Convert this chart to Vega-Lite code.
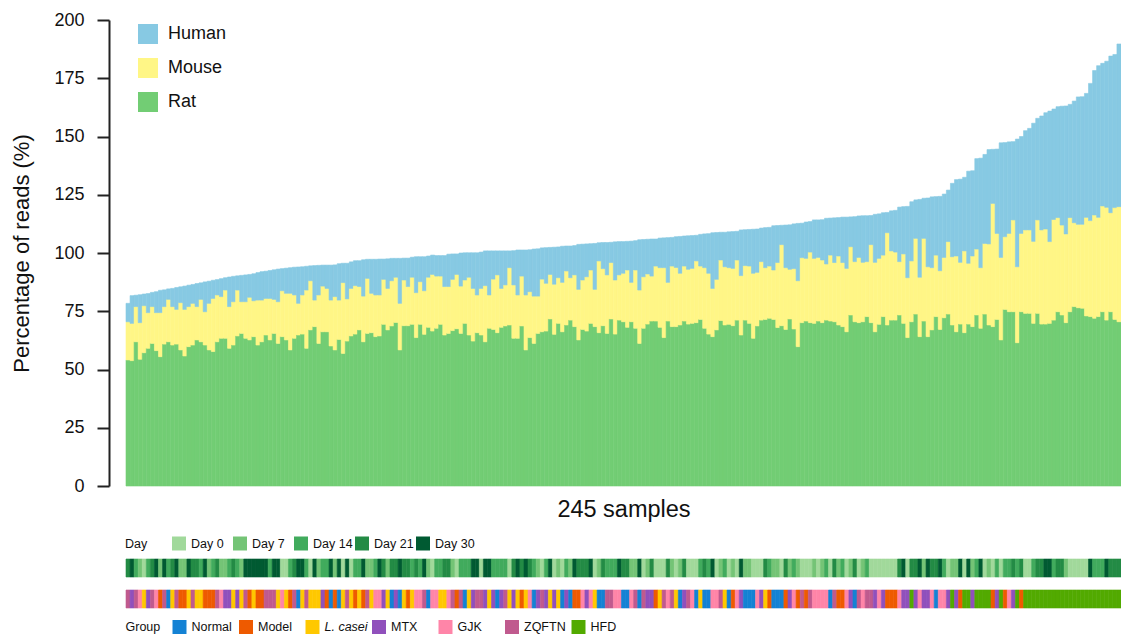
{
"$schema": "https://vega.github.io/schema/vega-lite/v6.json",
"padding": {"left": 10, "top": 11, "right": 0, "bottom": 0},
"config": {"font": "Liberation Sans", "view": {"stroke": null}},
"spacing": 11,
"datasets": {"samples": [
{"s":0,"Rat":54.1,"Mouse":16.4,"Human":7.9,"d":21,"g":"ZQFTN"},
{"s":1,"Rat":53.8,"Mouse":16.0,"Human":11.9,"d":30,"g":"MTX"},
{"s":2,"Rat":61.9,"Mouse":15.1,"Human":4.9,"d":14,"g":"ZQFTN"},
{"s":3,"Rat":54.4,"Mouse":15.7,"Human":12.0,"d":7,"g":"GJK"},
{"s":4,"Rat":57.2,"Mouse":20.2,"Human":5.0,"d":0,"g":"L. casei"},
{"s":5,"Rat":59.1,"Mouse":15.3,"Human":8.2,"d":14,"g":"MTX"},
{"s":6,"Rat":61.2,"Mouse":15.8,"Human":6.1,"d":21,"g":"ZQFTN"},
{"s":7,"Rat":58.1,"Mouse":16.3,"Human":9.0,"d":30,"g":"GJK"},
{"s":8,"Rat":55.5,"Mouse":18.9,"Human":9.6,"d":7,"g":"Model"},
{"s":9,"Rat":60.9,"Mouse":16.1,"Human":7.2,"d":30,"g":"ZQFTN"},
{"s":10,"Rat":61.9,"Mouse":18.2,"Human":4.5,"d":14,"g":"Normal"},
{"s":11,"Rat":60.5,"Mouse":16.5,"Human":7.8,"d":21,"g":"L. casei"},
{"s":12,"Rat":60.9,"Mouse":14.9,"Human":9.4,"d":30,"g":"ZQFTN"},
{"s":13,"Rat":58.4,"Mouse":20.3,"Human":6.8,"d":7,"g":"Model"},
{"s":14,"Rat":55.8,"Mouse":20.0,"Human":10.0,"d":7,"g":"Model"},
{"s":15,"Rat":59.8,"Mouse":17.2,"Human":9.2,"d":30,"g":"L. casei"},
{"s":16,"Rat":60.5,"Mouse":17.9,"Human":8.1,"d":21,"g":"ZQFTN"},
{"s":17,"Rat":62.7,"Mouse":14.3,"Human":9.9,"d":21,"g":"L. casei"},
{"s":18,"Rat":61.9,"Mouse":18.2,"Human":7.1,"d":14,"g":"L. casei"},
{"s":19,"Rat":60.5,"Mouse":14.3,"Human":12.8,"d":30,"g":"Model"},
{"s":20,"Rat":58.4,"Mouse":20.0,"Human":9.5,"d":7,"g":"Model"},
{"s":21,"Rat":57.7,"Mouse":22.8,"Human":7.8,"d":14,"g":"Model"},
{"s":22,"Rat":61.9,"Mouse":20.1,"Human":6.6,"d":21,"g":"ZQFTN"},
{"s":23,"Rat":63.4,"Mouse":17.9,"Human":7.7,"d":7,"g":"GJK"},
{"s":24,"Rat":63.4,"Mouse":20.7,"Human":5.3,"d":7,"g":"MTX"},
{"s":25,"Rat":59.1,"Mouse":17.9,"Human":12.7,"d":14,"g":"MTX"},
{"s":26,"Rat":60.5,"Mouse":18.6,"Human":10.9,"d":21,"g":"L. casei"},
{"s":27,"Rat":64.4,"Mouse":19.7,"Human":6.1,"d":14,"g":"MTX"},
{"s":28,"Rat":65.5,"Mouse":13.6,"Human":11.3,"d":7,"g":"L. casei"},
{"s":29,"Rat":63.4,"Mouse":15.7,"Human":11.5,"d":30,"g":"ZQFTN"},
{"s":30,"Rat":62.7,"Mouse":18.3,"Human":9.8,"d":30,"g":"Model"},
{"s":31,"Rat":64.1,"Mouse":15.4,"Human":11.6,"d":30,"g":"L. casei"},
{"s":32,"Rat":60.5,"Mouse":19.3,"Human":11.8,"d":30,"g":"Model"},
{"s":33,"Rat":61.9,"Mouse":17.9,"Human":12.2,"d":30,"g":"Model"},
{"s":34,"Rat":64.8,"Mouse":15.7,"Human":11.7,"d":30,"g":"ZQFTN"},
{"s":35,"Rat":62.7,"Mouse":17.8,"Human":12.0,"d":14,"g":"ZQFTN"},
{"s":36,"Rat":65.5,"Mouse":14.6,"Human":12.7,"d":30,"g":"ZQFTN"},
{"s":37,"Rat":61.2,"Mouse":17.9,"Human":14.0,"d":30,"g":"L. casei"},
{"s":38,"Rat":64.1,"Mouse":19.7,"Human":9.5,"d":0,"g":"GJK"},
{"s":39,"Rat":62.7,"Mouse":20.0,"Human":10.8,"d":0,"g":"L. casei"},
{"s":40,"Rat":58.4,"Mouse":24.3,"Human":11.0,"d":14,"g":"Model"},
{"s":41,"Rat":63.4,"Mouse":18.6,"Human":11.9,"d":21,"g":"ZQFTN"},
{"s":42,"Rat":64.8,"Mouse":13.6,"Human":15.6,"d":30,"g":"Normal"},
{"s":43,"Rat":65.2,"Mouse":16.8,"Human":12.1,"d":30,"g":"L. casei"},
{"s":44,"Rat":59.1,"Mouse":25.0,"Human":10.2,"d":14,"g":"ZQFTN"},
{"s":45,"Rat":67.0,"Mouse":21.1,"Human":6.4,"d":0,"g":"L. casei"},
{"s":46,"Rat":68.4,"Mouse":11.4,"Human":14.8,"d":30,"g":"L. casei"},
{"s":47,"Rat":61.2,"Mouse":20.8,"Human":12.7,"d":7,"g":"L. casei"},
{"s":48,"Rat":66.2,"Mouse":19.6,"Human":9.0,"d":14,"g":"MTX"},
{"s":49,"Rat":66.2,"Mouse":18.6,"Human":10.0,"d":14,"g":"Model"},
{"s":50,"Rat":60.1,"Mouse":19.7,"Human":15.0,"d":30,"g":"Normal"},
{"s":51,"Rat":58.4,"Mouse":22.9,"Human":13.6,"d":7,"g":"Model"},
{"s":52,"Rat":62.9,"Mouse":16.9,"Human":15.6,"d":30,"g":"Normal"},
{"s":53,"Rat":56.9,"Mouse":30.4,"Human":8.3,"d":0,"g":"L. casei"},
{"s":54,"Rat":62.2,"Mouse":18.1,"Human":15.3,"d":30,"g":"ZQFTN"},
{"s":55,"Rat":64.4,"Mouse":20.4,"Human":11.4,"d":0,"g":"L. casei"},
{"s":56,"Rat":65.2,"Mouse":20.8,"Human":10.7,"d":14,"g":"Model"},
{"s":57,"Rat":67.0,"Mouse":18.6,"Human":11.1,"d":14,"g":"L. casei"},
{"s":58,"Rat":61.9,"Mouse":19.6,"Human":15.6,"d":30,"g":"Model"},
{"s":59,"Rat":65.5,"Mouse":23.6,"Human":8.2,"d":7,"g":"ZQFTN"},
{"s":60,"Rat":65.8,"Mouse":16.9,"Human":14.6,"d":7,"g":"L. casei"},
{"s":61,"Rat":64.1,"Mouse":17.9,"Human":15.3,"d":14,"g":"GJK"},
{"s":62,"Rat":64.4,"Mouse":17.6,"Human":15.4,"d":30,"g":"GJK"},
{"s":63,"Rat":69.4,"Mouse":19.3,"Human":8.7,"d":21,"g":"MTX"},
{"s":64,"Rat":67.0,"Mouse":17.8,"Human":12.7,"d":7,"g":"L. casei"},
{"s":65,"Rat":68.7,"Mouse":19.4,"Human":9.6,"d":21,"g":"Normal"},
{"s":66,"Rat":70.2,"Mouse":19.4,"Human":8.1,"d":21,"g":"MTX"},
{"s":67,"Rat":58.4,"Mouse":20.0,"Human":19.3,"d":30,"g":"Normal"},
{"s":68,"Rat":68.8,"Mouse":19.6,"Human":9.4,"d":21,"g":"L. casei"},
{"s":69,"Rat":68.8,"Mouse":16.8,"Human":12.2,"d":21,"g":"Model"},
{"s":70,"Rat":69.4,"Mouse":20.2,"Human":8.6,"d":14,"g":"L. casei"},
{"s":71,"Rat":63.7,"Mouse":19.3,"Human":15.4,"d":21,"g":"GJK"},
{"s":72,"Rat":69.4,"Mouse":18.3,"Human":10.7,"d":14,"g":"GJK"},
{"s":73,"Rat":65.1,"Mouse":18.7,"Human":14.6,"d":30,"g":"ZQFTN"},
{"s":74,"Rat":68.1,"Mouse":21.5,"Human":9.1,"d":7,"g":"Normal"},
{"s":75,"Rat":66.5,"Mouse":24.3,"Human":8.3,"d":0,"g":"GJK"},
{"s":76,"Rat":67.7,"Mouse":22.4,"Human":8.8,"d":14,"g":"GJK"},
{"s":77,"Rat":69.4,"Mouse":20.7,"Human":8.8,"d":14,"g":"L. casei"},
{"s":78,"Rat":64.8,"Mouse":20.8,"Human":13.3,"d":21,"g":"L. casei"},
{"s":79,"Rat":65.5,"Mouse":20.1,"Human":13.9,"d":21,"g":"GJK"},
{"s":80,"Rat":66.7,"Mouse":22.0,"Human":10.9,"d":7,"g":"ZQFTN"},
{"s":81,"Rat":67.5,"Mouse":23.3,"Human":8.8,"d":0,"g":"Model"},
{"s":82,"Rat":65.5,"Mouse":20.3,"Human":14.2,"d":14,"g":"ZQFTN"},
{"s":83,"Rat":69.8,"Mouse":18.6,"Human":11.7,"d":14,"g":"Normal"},
{"s":84,"Rat":64.8,"Mouse":24.8,"Human":10.5,"d":14,"g":"L. casei"},
{"s":85,"Rat":62.2,"Mouse":22.6,"Human":15.3,"d":30,"g":"MTX"},
{"s":86,"Rat":65.8,"Mouse":16.2,"Human":18.1,"d":30,"g":"ZQFTN"},
{"s":87,"Rat":64.8,"Mouse":20.0,"Human":15.6,"d":0,"g":"ZQFTN"},
{"s":88,"Rat":61.9,"Mouse":24.1,"Human":14.9,"d":30,"g":"MTX"},
{"s":89,"Rat":67.7,"Mouse":14.3,"Human":18.9,"d":30,"g":"L. casei"},
{"s":90,"Rat":67.2,"Mouse":21.6,"Human":12.1,"d":14,"g":"MTX"},
{"s":91,"Rat":65.8,"Mouse":24.8,"Human":10.3,"d":14,"g":"Normal"},
{"s":92,"Rat":68.1,"Mouse":16.7,"Human":16.1,"d":14,"g":"MTX"},
{"s":93,"Rat":68.7,"Mouse":17.6,"Human":14.6,"d":14,"g":"ZQFTN"},
{"s":94,"Rat":69.1,"Mouse":24.6,"Human":7.2,"d":0,"g":"L. casei"},
{"s":95,"Rat":63.4,"Mouse":22.9,"Human":14.7,"d":21,"g":"MTX"},
{"s":96,"Rat":63.4,"Mouse":18.6,"Human":19.3,"d":30,"g":"L. casei"},
{"s":97,"Rat":68.7,"Mouse":21.4,"Human":11.2,"d":21,"g":"Model"},
{"s":98,"Rat":58.4,"Mouse":23.6,"Human":19.3,"d":30,"g":"L. casei"},
{"s":99,"Rat":63.7,"Mouse":19.7,"Human":18.0,"d":21,"g":"GJK"},
{"s":100,"Rat":61.2,"Mouse":20.3,"Human":20.2,"d":14,"g":"Normal"},
{"s":101,"Rat":65.5,"Mouse":16.0,"Human":20.3,"d":7,"g":"MTX"},
{"s":102,"Rat":66.2,"Mouse":22.6,"Human":13.4,"d":0,"g":"ZQFTN"},
{"s":103,"Rat":66.5,"Mouse":20.5,"Human":15.3,"d":14,"g":"MTX"},
{"s":104,"Rat":71.7,"Mouse":19.1,"Human":11.6,"d":30,"g":"L. casei"},
{"s":105,"Rat":65.1,"Mouse":21.5,"Human":15.9,"d":0,"g":"MTX"},
{"s":106,"Rat":69.8,"Mouse":19.6,"Human":13.2,"d":7,"g":"L. casei"},
{"s":107,"Rat":66.2,"Mouse":21.2,"Human":15.5,"d":0,"g":"Normal"},
{"s":108,"Rat":69.1,"Mouse":23.2,"Human":10.7,"d":14,"g":"MTX"},
{"s":109,"Rat":71.2,"Mouse":18.2,"Human":13.6,"d":7,"g":"Normal"},
{"s":110,"Rat":68.4,"Mouse":22.2,"Human":12.6,"d":30,"g":"Model"},
{"s":111,"Rat":62.7,"Mouse":21.7,"Human":19.3,"d":21,"g":"Model"},
{"s":112,"Rat":67.2,"Mouse":21.2,"Human":15.4,"d":21,"g":"GJK"},
{"s":113,"Rat":66.5,"Mouse":23.3,"Human":14.1,"d":21,"g":"MTX"},
{"s":114,"Rat":69.8,"Mouse":22.9,"Human":11.3,"d":30,"g":"GJK"},
{"s":115,"Rat":68.4,"Mouse":16.0,"Human":19.7,"d":0,"g":"L. casei"},
{"s":116,"Rat":65.8,"Mouse":30.8,"Human":7.8,"d":7,"g":"Normal"},
{"s":117,"Rat":68.8,"Mouse":24.5,"Human":11.2,"d":21,"g":"Normal"},
{"s":118,"Rat":65.5,"Mouse":25.1,"Human":13.9,"d":14,"g":"ZQFTN"},
{"s":119,"Rat":71.7,"Mouse":24.2,"Human":8.7,"d":14,"g":"ZQFTN"},
{"s":120,"Rat":65.2,"Mouse":23.2,"Human":16.4,"d":14,"g":"GJK"},
{"s":121,"Rat":71.2,"Mouse":19.4,"Human":14.3,"d":30,"g":"GJK"},
{"s":122,"Rat":70.5,"Mouse":20.8,"Human":13.6,"d":21,"g":"Normal"},
{"s":123,"Rat":68.1,"Mouse":24.6,"Human":12.3,"d":21,"g":"Normal"},
{"s":124,"Rat":70.5,"Mouse":16.9,"Human":17.7,"d":7,"g":"GJK"},
{"s":125,"Rat":67.7,"Mouse":25.0,"Human":12.6,"d":7,"g":"ZQFTN"},
{"s":126,"Rat":61.2,"Mouse":22.9,"Human":21.6,"d":30,"g":"Normal"},
{"s":127,"Rat":67.7,"Mouse":22.1,"Human":16.0,"d":0,"g":"ZQFTN"},
{"s":128,"Rat":69.5,"Mouse":21.5,"Human":14.9,"d":7,"g":"MTX"},
{"s":129,"Rat":70.8,"Mouse":19.3,"Human":15.9,"d":21,"g":"MTX"},
{"s":130,"Rat":70.8,"Mouse":23.6,"Human":11.6,"d":0,"g":"Model"},
{"s":131,"Rat":68.1,"Mouse":25.6,"Human":12.7,"d":0,"g":"L. casei"},
{"s":132,"Rat":63.7,"Mouse":30.0,"Human":12.8,"d":0,"g":"ZQFTN"},
{"s":133,"Rat":70.8,"Mouse":16.6,"Human":19.2,"d":21,"g":"GJK"},
{"s":134,"Rat":68.4,"Mouse":26.0,"Human":12.3,"d":7,"g":"ZQFTN"},
{"s":135,"Rat":68.4,"Mouse":25.4,"Human":13.2,"d":0,"g":"L. casei"},
{"s":136,"Rat":69.1,"Mouse":22.2,"Human":15.8,"d":7,"g":"Normal"},
{"s":137,"Rat":70.8,"Mouse":23.6,"Human":12.9,"d":21,"g":"MTX"},
{"s":138,"Rat":69.5,"Mouse":23.5,"Human":14.4,"d":0,"g":"ZQFTN"},
{"s":139,"Rat":69.8,"Mouse":23.6,"Human":14.1,"d":0,"g":"GJK"},
{"s":140,"Rat":70.1,"Mouse":26.5,"Human":11.0,"d":0,"g":"Normal"},
{"s":141,"Rat":71.5,"Mouse":22.9,"Human":13.6,"d":14,"g":"L. casei"},
{"s":142,"Rat":67.7,"Mouse":26.0,"Human":14.5,"d":21,"g":"Normal"},
{"s":143,"Rat":65.2,"Mouse":26.1,"Human":17.0,"d":14,"g":"Normal"},
{"s":144,"Rat":64.1,"Mouse":20.7,"Human":23.9,"d":30,"g":"GJK"},
{"s":145,"Rat":67.0,"Mouse":21.7,"Human":20.1,"d":0,"g":"GJK"},
{"s":146,"Rat":71.0,"Mouse":26.0,"Human":11.9,"d":7,"g":"ZQFTN"},
{"s":147,"Rat":69.1,"Mouse":25.0,"Human":14.8,"d":14,"g":"L. casei"},
{"s":148,"Rat":69.4,"Mouse":24.3,"Human":15.4,"d":0,"g":"Normal"},
{"s":149,"Rat":68.8,"Mouse":24.6,"Human":15.8,"d":7,"g":"Model"},
{"s":150,"Rat":71.2,"Mouse":25.8,"Human":12.3,"d":0,"g":"GJK"},
{"s":151,"Rat":64.8,"Mouse":25.5,"Human":19.6,"d":30,"g":"MTX"},
{"s":152,"Rat":71.2,"Mouse":23.4,"Human":15.4,"d":7,"g":"Normal"},
{"s":153,"Rat":69.8,"Mouse":24.6,"Human":15.7,"d":7,"g":"Normal"},
{"s":154,"Rat":63.4,"Mouse":27.9,"Human":18.9,"d":0,"g":"Normal"},
{"s":155,"Rat":68.7,"Mouse":23.0,"Human":18.6,"d":0,"g":"GJK"},
{"s":156,"Rat":71.2,"Mouse":25.1,"Human":14.4,"d":0,"g":"MTX"},
{"s":157,"Rat":71.5,"Mouse":22.2,"Human":17.2,"d":21,"g":"L. casei"},
{"s":158,"Rat":72.0,"Mouse":22.4,"Human":16.6,"d":14,"g":"Model"},
{"s":159,"Rat":71.5,"Mouse":21.2,"Human":19.0,"d":7,"g":"Normal"},
{"s":160,"Rat":68.0,"Mouse":27.9,"Human":15.9,"d":7,"g":"Normal"},
{"s":161,"Rat":68.8,"Mouse":34.8,"Human":8.3,"d":0,"g":"Normal"},
{"s":162,"Rat":67.2,"Mouse":26.5,"Human":18.3,"d":21,"g":"Model"},
{"s":163,"Rat":71.7,"Mouse":21.3,"Human":19.1,"d":7,"g":"MTX"},
{"s":164,"Rat":67.4,"Mouse":25.9,"Human":19.2,"d":14,"g":"GJK"},
{"s":165,"Rat":59.8,"Mouse":28.3,"Human":24.6,"d":7,"g":"Model"},
{"s":166,"Rat":70.1,"Mouse":27.9,"Human":14.8,"d":0,"g":"ZQFTN"},
{"s":167,"Rat":70.8,"Mouse":26.9,"Human":15.6,"d":0,"g":"Model"},
{"s":168,"Rat":70.1,"Mouse":30.3,"Human":13.1,"d":0,"g":"ZQFTN"},
{"s":169,"Rat":69.8,"Mouse":27.9,"Human":16.5,"d":7,"g":"GJK"},
{"s":170,"Rat":70.8,"Mouse":27.3,"Human":16.1,"d":0,"g":"GJK"},
{"s":171,"Rat":70.1,"Mouse":26.9,"Human":17.3,"d":7,"g":"GJK"},
{"s":172,"Rat":71.2,"Mouse":24.1,"Human":19.6,"d":14,"g":"GJK"},
{"s":173,"Rat":70.8,"Mouse":28.3,"Human":15.9,"d":0,"g":"Normal"},
{"s":174,"Rat":70.5,"Mouse":25.4,"Human":19.2,"d":21,"g":"ZQFTN"},
{"s":175,"Rat":69.1,"Mouse":29.6,"Human":16.5,"d":7,"g":"Model"},
{"s":176,"Rat":68.4,"Mouse":27.5,"Human":19.5,"d":14,"g":"Model"},
{"s":177,"Rat":66.2,"Mouse":27.2,"Human":22.0,"d":0,"g":"GJK"},
{"s":178,"Rat":73.4,"Mouse":29.3,"Human":12.8,"d":7,"g":"MTX"},
{"s":179,"Rat":70.5,"Mouse":25.8,"Human":19.3,"d":21,"g":"Normal"},
{"s":180,"Rat":70.1,"Mouse":28.0,"Human":17.8,"d":0,"g":"ZQFTN"},
{"s":181,"Rat":70.5,"Mouse":25.5,"Human":20.0,"d":7,"g":"GJK"},
{"s":182,"Rat":72.7,"Mouse":23.6,"Human":19.7,"d":14,"g":"ZQFTN"},
{"s":183,"Rat":70.1,"Mouse":33.5,"Human":12.5,"d":0,"g":"ZQFTN"},
{"s":184,"Rat":66.2,"Mouse":29.8,"Human":20.6,"d":0,"g":"MTX"},
{"s":185,"Rat":69.4,"Mouse":28.3,"Human":19.1,"d":0,"g":"GJK"},
{"s":186,"Rat":72.7,"Mouse":26.4,"Human":18.2,"d":0,"g":"MTX"},
{"s":187,"Rat":69.1,"Mouse":39.6,"Human":8.7,"d":0,"g":"Model"},
{"s":188,"Rat":71.2,"Mouse":29.7,"Human":17.2,"d":0,"g":"Model"},
{"s":189,"Rat":71.2,"Mouse":29.2,"Human":17.9,"d":0,"g":"Model"},
{"s":190,"Rat":73.4,"Mouse":22.9,"Human":23.4,"d":21,"g":"GJK"},
{"s":191,"Rat":69.8,"Mouse":29.8,"Human":20.3,"d":30,"g":"MTX"},
{"s":192,"Rat":63.7,"Mouse":25.7,"Human":30.6,"d":0,"g":"MTX"},
{"s":193,"Rat":70.5,"Mouse":26.1,"Human":25.4,"d":21,"g":"HFD"},
{"s":194,"Rat":73.8,"Mouse":32.5,"Human":16.5,"d":21,"g":"MTX"},
{"s":195,"Rat":64.1,"Mouse":25.5,"Human":33.4,"d":30,"g":"GJK"},
{"s":196,"Rat":70.8,"Mouse":35.5,"Human":17.2,"d":7,"g":"MTX"},
{"s":197,"Rat":64.1,"Mouse":30.0,"Human":29.5,"d":30,"g":"MTX"},
{"s":198,"Rat":67.0,"Mouse":26.7,"Human":30.4,"d":21,"g":"GJK"},
{"s":199,"Rat":72.7,"Mouse":26.4,"Human":25.1,"d":21,"g":"Normal"},
{"s":200,"Rat":67.2,"Mouse":25.2,"Human":31.9,"d":30,"g":"GJK"},
{"s":201,"Rat":72.2,"Mouse":25.9,"Human":27.2,"d":14,"g":"GJK"},
{"s":202,"Rat":73.8,"Mouse":31.1,"Human":22.1,"d":0,"g":"MTX"},
{"s":203,"Rat":69.1,"Mouse":29.3,"Human":31.5,"d":7,"g":"HFD"},
{"s":204,"Rat":66.2,"Mouse":32.5,"Human":32.8,"d":7,"g":"MTX"},
{"s":205,"Rat":69.5,"Mouse":26.5,"Human":35.7,"d":30,"g":"Model"},
{"s":206,"Rat":65.8,"Mouse":35.1,"Human":31.6,"d":0,"g":"HFD"},
{"s":207,"Rat":69.5,"Mouse":26.1,"Human":39.5,"d":30,"g":"HFD"},
{"s":208,"Rat":68.4,"Mouse":30.3,"Human":36.6,"d":7,"g":"MTX"},
{"s":209,"Rat":73.4,"Mouse":28.3,"Human":38.8,"d":14,"g":"HFD"},
{"s":210,"Rat":67.7,"Mouse":26.0,"Human":47.0,"d":30,"g":"HFD"},
{"s":211,"Rat":73.8,"Mouse":30.3,"Human":38.2,"d":0,"g":"HFD"},
{"s":212,"Rat":69.1,"Mouse":34.8,"Human":40.5,"d":7,"g":"HFD"},
{"s":213,"Rat":68.4,"Mouse":52.9,"Human":23.2,"d":0,"g":"Model"},
{"s":214,"Rat":71.5,"Mouse":36.9,"Human":36.2,"d":14,"g":"MTX"},
{"s":215,"Rat":62.7,"Mouse":35.4,"Human":49.2,"d":0,"g":"HFD"},
{"s":216,"Rat":75.8,"Mouse":31.2,"Human":40.4,"d":14,"g":"Model"},
{"s":217,"Rat":74.8,"Mouse":33.6,"Human":39.3,"d":14,"g":"GJK"},
{"s":218,"Rat":74.8,"Mouse":39.4,"Human":33.6,"d":21,"g":"MTX"},
{"s":219,"Rat":61.5,"Mouse":32.6,"Human":54.8,"d":14,"g":"HFD"},
{"s":220,"Rat":74.8,"Mouse":33.6,"Human":41.6,"d":21,"g":"Model"},
{"s":221,"Rat":74.1,"Mouse":35.8,"Human":42.6,"d":0,"g":"HFD"},
{"s":222,"Rat":74.1,"Mouse":35.8,"Human":43.6,"d":0,"g":"HFD"},
{"s":223,"Rat":69.8,"Mouse":35.2,"Human":50.7,"d":14,"g":"HFD"},
{"s":224,"Rat":74.1,"Mouse":40.1,"Human":43.6,"d":21,"g":"HFD"},
{"s":225,"Rat":69.5,"Mouse":40.4,"Human":48.9,"d":21,"g":"HFD"},
{"s":226,"Rat":69.5,"Mouse":40.8,"Human":49.9,"d":30,"g":"HFD"},
{"s":227,"Rat":69.8,"Mouse":35.1,"Human":56.0,"d":30,"g":"HFD"},
{"s":228,"Rat":71.2,"Mouse":43.2,"Human":47.4,"d":14,"g":"HFD"},
{"s":229,"Rat":74.8,"Mouse":40.4,"Human":47.6,"d":21,"g":"HFD"},
{"s":230,"Rat":73.4,"Mouse":38.6,"Human":51.0,"d":21,"g":"HFD"},
{"s":231,"Rat":70.1,"Mouse":38.1,"Human":54.9,"d":7,"g":"HFD"},
{"s":232,"Rat":74.8,"Mouse":40.4,"Human":48.6,"d":0,"g":"HFD"},
{"s":233,"Rat":77.0,"Mouse":36.0,"Human":52.2,"d":0,"g":"HFD"},
{"s":234,"Rat":76.5,"Mouse":35.8,"Human":54.7,"d":0,"g":"HFD"},
{"s":235,"Rat":76.3,"Mouse":36.0,"Human":54.8,"d":0,"g":"HFD"},
{"s":236,"Rat":73.0,"Mouse":42.3,"Human":53.2,"d":0,"g":"HFD"},
{"s":237,"Rat":72.7,"Mouse":41.2,"Human":58.9,"d":30,"g":"HFD"},
{"s":238,"Rat":72.0,"Mouse":44.3,"Human":62.0,"d":14,"g":"HFD"},
{"s":239,"Rat":72.7,"Mouse":42.6,"Human":65.1,"d":14,"g":"HFD"},
{"s":240,"Rat":74.8,"Mouse":45.4,"Human":61.2,"d":14,"g":"HFD"},
{"s":241,"Rat":71.2,"Mouse":48.4,"Human":62.7,"d":30,"g":"HFD"},
{"s":242,"Rat":74.8,"Mouse":42.5,"Human":67.2,"d":21,"g":"HFD"},
{"s":243,"Rat":71.5,"Mouse":48.0,"Human":65.7,"d":21,"g":"HFD"},
{"s":244,"Rat":70.5,"Mouse":49.4,"Human":69.8,"d":21,"g":"HFD"}
]},
"data": {"name": "samples"},
"resolve": {"scale": {"color": "independent", "stroke": "independent"}, "legend": {"color": "independent"}},
"vconcat": [
{
"width": 995, "height": 466,
"transform": [{"fold": ["Rat", "Mouse", "Human"], "as": ["sp", "v"]}],
"mark": {"type": "bar", "strokeWidth": 0.6},
"encoding": {
"x": {"field": "s", "type": "ordinal", "scale": {"paddingInner": 0, "paddingOuter": 0},
"axis": {"title": "245 samples", "labels": false, "ticks": false, "domain": false, "titleFontSize": 23.5, "titleFontWeight": "normal", "titleColor": "#111", "titlePadding": 11}},
"y": {"field": "v", "type": "quantitative", "stack": "zero", "scale": {"domain": [0, 200]},
"axis": {"values": [0, 25, 50, 75, 100, 125, 150, 175, 200], "grid": false, "offset": 17, "tickSize": 12, "tickWidth": 2, "domainWidth": 2, "tickColor": "#222", "domainColor": "#222", "labelFontSize": 18, "labelColor": "#111", "labelPadding": 13, "title": "Percentage of reads (%)", "titleFontSize": 22, "titleFontWeight": "normal", "titleColor": "#111", "titlePadding": 20}},
"color": {"field": "sp", "type": "nominal", "scale": {"domain": ["Human", "Mouse", "Rat"], "range": ["#87C9E3", "#FFF686", "#72CD74"]},
"legend": {"orient": "none", "legendX": 12, "legendY": 4, "title": null, "symbolType": "square", "symbolSize": 400, "symbolStrokeWidth": 0, "symbolOpacity": 1, "labelFontSize": 18, "labelColor": "#111", "labelOffset": 10, "rowPadding": 14, "padding": 0}},
"stroke": {"field": "sp", "type": "nominal", "scale": {"domain": ["Human", "Mouse", "Rat"], "range": ["#87C9E3", "#FFF686", "#72CD74"]}, "legend": null},
"order": {"field": "sp", "sort": "descending"}
}
},
{
"width": 995, "height": 18,
"mark": {"type": "rect", "strokeWidth": 0.6},
"encoding": {
"x": {"field": "s", "type": "ordinal", "scale": {"paddingInner": 0, "paddingOuter": 0}, "axis": null},
"color": {"field": "d", "type": "ordinal", "scale": {"domain": [0, 7, 14, 21, 30], "range": ["#A1D99B", "#74C476", "#41AB5D", "#238B45", "#005A32"]},
"legend": {"orient": "none", "legendX": -5, "legendY": -26.5, "direction": "horizontal", "title": "Day", "titleOrient": "left", "titleFontSize": 12.5, "titleFontWeight": "normal", "titleColor": "#111", "titlePadding": 24, "labelExpr": "'Day ' + datum.label", "labelFontSize": 12.5, "labelColor": "#111", "symbolType": "square", "symbolSize": 196, "symbolStrokeWidth": 0, "symbolOpacity": 1, "labelOffset": 5, "columnPadding": 2, "gridAlign": "all", "padding": 4}},
"stroke": {"field": "d", "type": "ordinal", "scale": {"domain": [0, 7, 14, 21, 30], "range": ["#A1D99B", "#74C476", "#41AB5D", "#238B45", "#005A32"]}, "legend": null}
}
},
{
"width": 995, "height": 18,
"mark": {"type": "rect", "strokeWidth": 0.6},
"encoding": {
"x": {"field": "s", "type": "ordinal", "scale": {"paddingInner": 0, "paddingOuter": 0}, "axis": null},
"color": {"field": "g", "type": "nominal", "scale": {"domain": ["Normal", "Model", "L. casei", "MTX", "GJK", "ZQFTN", "HFD"], "range": ["#1482D4", "#EE5A00", "#FFC800", "#9050BC", "#FF85A8", "#C05A8E", "#52AA00"]},
"legend": {"orient": "none", "legendX": -0.5, "legendY": 30, "direction": "horizontal", "title": "Group", "titleOrient": "left", "titleFontSize": 12.5, "titleFontWeight": "normal", "titleColor": "#111", "titlePadding": 12, "labelFontSize": 12.5, "labelColor": "#111", "labelFontStyle": {"expr": "datum.label == 'L. casei' ? 'italic' : 'normal'"}, "symbolType": "square", "symbolSize": 196, "symbolStrokeWidth": 0, "symbolOpacity": 1, "labelOffset": 5, "columnPadding": 3.5, "gridAlign": "all", "padding": 0}},
"stroke": {"field": "g", "type": "nominal", "scale": {"domain": ["Normal", "Model", "L. casei", "MTX", "GJK", "ZQFTN", "HFD"], "range": ["#1482D4", "#EE5A00", "#FFC800", "#9050BC", "#FF85A8", "#C05A8E", "#52AA00"]}, "legend": null}
}
}
]
}
